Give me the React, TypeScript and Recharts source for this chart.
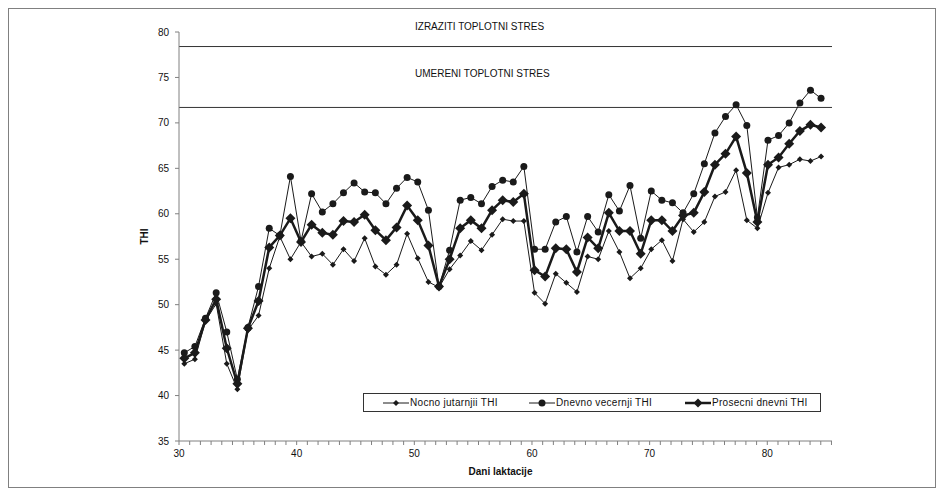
import React from 'react';
import { LineChart, Line, XAxis, YAxis, ReferenceLine, Legend } from 'recharts';

// days in lactation (x values of the measurements)
const days = [
  30.45, 31.35, 32.25, 33.16, 34.06, 34.96, 35.86, 36.76, 37.67, 38.57, 39.47, 40.37, 41.27, 42.18,
  43.08, 43.98, 44.88, 45.78, 46.69, 47.59, 48.49, 49.39, 50.29, 51.2, 52.1, 53.0, 53.9, 54.8,
  55.71, 56.61, 57.51, 58.41, 59.31, 60.22, 61.12, 62.02, 62.92, 63.82, 64.73, 65.63, 66.53, 67.43,
  68.33, 69.24, 70.14, 71.04, 71.94, 72.84, 73.75, 74.65, 75.55, 76.45, 77.35, 78.26, 79.16, 80.06,
  80.96, 81.86, 82.77, 83.67, 84.57,
];

const nocnoJutarnji = [
  43.5, 44.0, 48.2, 50.1, 43.5, 40.7, 47.2, 48.8, 54.0, 57.5, 55.0, 56.9, 55.3, 55.6, 54.4, 56.1,
  54.8, 57.3, 54.2, 53.3, 54.4, 57.8, 55.1, 52.5, 51.9, 53.9, 55.4, 57.0, 56.0, 57.7, 59.4, 59.2,
  59.2, 51.3, 50.1, 53.4, 52.4, 51.4, 55.3, 55.0, 58.1, 55.8, 52.9, 54.0, 56.1, 57.1, 54.8, 59.4,
  58.0, 59.1, 61.9, 62.4, 64.8, 59.3, 58.4, 62.3, 65.1, 65.4, 66.0, 65.8, 66.3,
];

const dnevnoVecernji = [
  44.7, 45.4, 48.5, 51.3, 47.0, 41.8, 47.5, 52.0, 58.4, 57.6, 64.1, 57.0, 62.2, 60.2, 61.1, 62.3,
  63.4, 62.4, 62.3, 61.1, 62.8, 64.0, 63.5, 60.4, 52.0, 56.0, 61.5, 61.8, 61.1, 63.0, 63.7, 63.5,
  65.2, 56.1, 56.1, 59.1, 59.7, 55.8, 59.7, 58.0, 62.1, 60.3, 63.1, 57.3, 62.5, 61.5, 61.2, 60.1,
  62.2, 65.5, 68.9, 70.7, 72.0, 69.7, 59.6, 68.1, 68.6, 70.0, 72.2, 73.6, 72.7,
];

const prosecniDnevni = [
  44.1, 44.7, 48.3, 50.6, 45.2, 41.3, 47.4, 50.4, 56.3, 57.6, 59.5, 56.9, 58.8, 57.9, 57.7, 59.2,
  59.1, 59.9, 58.2, 57.1, 58.5, 60.9, 59.3, 56.5, 52.0, 55.0, 58.4, 59.3, 58.4, 60.4, 61.5, 61.3,
  62.2, 53.8, 53.1, 56.2, 56.1, 53.6, 57.4, 56.2, 60.1, 58.1, 58.1, 55.6, 59.3, 59.3, 58.1, 59.8,
  60.1, 62.4, 65.4, 66.6, 68.5, 64.5, 59.1, 65.4, 66.2, 67.7, 69.1, 69.8, 69.5,
];

const seriesNames = ['Nocno jutarnjii THI', 'Dnevno vecernji THI', 'Prosecni dnevni THI'];

const stressLabels = ['IZRAZITI TOPLOTNI STRES', 'UMERENI TOPLOTNI STRES'];
const stressValues = [78.4, 71.7];

const xLabels = [30, 40, 50, 60, 70, 80];
const yTicks = [35, 40, 45, 50, 55, 60, 65, 70, 75, 80];

const data = days.map((d, i) => ({
  day: d,
  nocno: nocnoJutarnji[i],
  dnevno: dnevnoVecernji[i],
  prosecni: prosecniDnevni[i],
}));

// small tick marks, 11 per 10 days as in the original axis
const xTicks = Array.from({ length: 62 }, (_, k) => 30 + (k * 10) / 11);

const FONT = '"Liberation Sans", Arial, sans-serif';
const INK = '#1a1a1a';

const diamondDot = (size: number) => (props: any) => {
  const { cx, cy, index } = props;
  if (cx == null || cy == null) return <g key={index} />;
  return (
    <polygon
      key={index}
      points={`${cx},${cy - size} ${cx + size},${cy} ${cx},${cy + size} ${cx - size},${cy}`}
      fill={INK}
    />
  );
};

const circleDot = (r: number) => (props: any) => {
  const { cx, cy, index } = props;
  if (cx == null || cy == null) return <g key={index} />;
  return <circle key={index} cx={cx} cy={cy} r={r} fill={INK} />;
};

const LegendMarker = ({ kind }: { kind: number }) => (
  <svg width={26} height={10} style={{ display: 'block' }}>
    <line x1={0} y1={5} x2={26} y2={5} stroke={INK} strokeWidth={kind === 2 ? 2.5 : 1} />
    {kind === 0 && <polygon points="13,2 16,5 13,8 10,5" fill={INK} />}
    {kind === 1 && <circle cx={13} cy={5} r={3.5} fill={INK} />}
    {kind === 2 && <polygon points="13,0.5 17.5,5 13,9.5 8.5,5" fill={INK} />}
  </svg>
);

const legendLefts = [19, 165, 321];

const renderLegend = () => (
  <div
    style={{
      position: 'relative',
      width: 458,
      height: 19,
      border: '1px solid #333',
      boxSizing: 'border-box',
      background: '#fff',
      fontFamily: FONT,
      fontSize: 10,
      color: '#111',
    }}
  >
    {seriesNames.map((name, i) => (
      <div
        key={name}
        style={{ position: 'absolute', left: legendLefts[i], top: 3, display: 'flex', alignItems: 'center' }}
      >
        <LegendMarker kind={i} />
        <span style={{ marginLeft: 1, letterSpacing: 0.3, lineHeight: '11px' }}>{name}</span>
      </div>
    ))}
  </div>
);

const stressLabel = (text: string, dy: number) => (props: any) => {
  const vb = props.viewBox || {};
  return (
    <text x={vb.x + 236} y={vb.y - dy} fontFamily={FONT} fontSize={10} fill="#111" dominantBaseline="middle">
      {text}
    </text>
  );
};

const labelOffsets = [19, 33];

const yLabel = (props: any) => {
  const vb = props.viewBox || {};
  const x = 136;
  const y = vb.y + vb.height / 2;
  return (
    <text
      x={x}
      y={y}
      transform={`rotate(-90 ${x} ${y})`}
      textAnchor="middle"
      dominantBaseline="middle"
      fontFamily={FONT}
      fontSize={10}
      fontWeight="bold"
      fill="#111"
    >
      THI
    </text>
  );
};

const xLabel = (props: any) => {
  const vb = props.viewBox || {};
  return (
    <text
      x={vb.x + vb.width / 2 - 5}
      y={vb.y + 31}
      textAnchor="middle"
      dominantBaseline="middle"
      fontFamily={FONT}
      fontSize={10}
      fontWeight="bold"
      fill="#111"
    >
      Dani laktacije
    </text>
  );
};

const formatXTick = (v: number) => {
  const r = Math.round(v);
  return Math.abs(v - r) < 0.01 && xLabels.includes(r) ? String(r) : '';
};

export default function App() {
  return (
    <div style={{ width: 926, height: 478, border: '1px solid #808080', background: '#fff' }}>
      <LineChart width={926} height={478} data={data} margin={{ top: 23, right: 103, left: 0, bottom: 0 }}>
        <XAxis
          dataKey="day"
          type="number"
          domain={[30, 85.5]}
          ticks={xTicks}
          interval={0}
          allowDataOverflow
          tickFormatter={formatXTick}
          stroke="#808080"
          tickSize={4}
          tickMargin={5}
          height={46}
          tick={{ fill: '#111', fontSize: 10, fontFamily: FONT }}
          label={xLabel}
        />
        <YAxis
          type="number"
          domain={[35, 80]}
          ticks={yTicks}
          interval={0}
          width={170}
          stroke="#808080"
          tickSize={4}
          tickMargin={6}
          tick={{ fill: '#111', fontSize: 10, fontFamily: FONT }}
          label={yLabel}
        />
        {stressValues.map((v, i) => (
          <ReferenceLine
            key={stressLabels[i]}
            y={v}
            stroke="#333"
            strokeWidth={1}
            label={stressLabel(stressLabels[i], labelOffsets[i])}
          />
        ))}
        <Legend
          layout="horizontal"
          verticalAlign="middle"
          content={renderLegend}
          wrapperStyle={{ position: 'absolute', left: 354, top: 384, width: 458, height: 19 }}
        />
        <Line
          dataKey="nocno"
          name={seriesNames[0]}
          stroke={INK}
          strokeWidth={1}
          dot={diamondDot(3)}
          activeDot={false}
          isAnimationActive={false}
        />
        <Line
          dataKey="dnevno"
          name={seriesNames[1]}
          stroke={INK}
          strokeWidth={1}
          dot={circleDot(3.5)}
          activeDot={false}
          isAnimationActive={false}
        />
        <Line
          dataKey="prosecni"
          name={seriesNames[2]}
          stroke={INK}
          strokeWidth={2.5}
          dot={diamondDot(5)}
          activeDot={false}
          isAnimationActive={false}
        />
      </LineChart>
    </div>
  );
}
